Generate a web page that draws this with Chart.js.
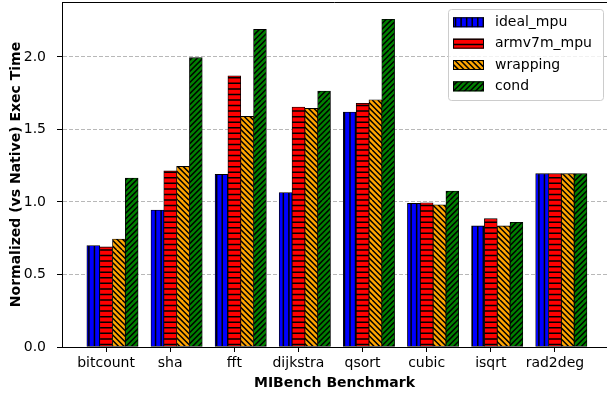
<!DOCTYPE html>
<html>
<head>
<meta charset="utf-8">
<script src="https://cdn.jsdelivr.net/npm/chart.js@4"></script>
<style>
  html, body { margin: 0; padding: 0; background: #ffffff; }
  #wrap { width: 607px; height: 399px; }
</style>
</head>
<body>
<div id="wrap"><canvas id="c" width="607" height="399"></canvas></div>
<script>
// Benchmarks and normalized execution times per MPU scheme
const categories = ['bitcount', 'sha', 'fft', 'dijkstra', 'qsort', 'cubic', 'isqrt', 'rad2deg'];
const seriesNames = ['ideal_mpu', 'armv7m_mpu', 'wrapping', 'cond'];
const idealMpu  = [0.70, 0.945, 1.19, 1.065, 1.62, 0.99, 0.835, 1.195];
const armv7mMpu = [0.69, 1.215, 1.87, 1.655, 1.68, 0.995, 0.885, 1.195];
const wrapping  = [0.745, 1.245, 1.59, 1.645, 1.705, 0.98, 0.835, 1.195];
const cond      = [1.165, 1.995, 2.19, 1.765, 2.26, 1.075, 0.86, 1.195];
const yTicks = [0, 0.5, 1.0, 1.5, 2.0];

const valueSets = [idealMpu, armv7mMpu, wrapping, cond];
const colors = ['#0000ff', '#ff0000', '#ffa500', '#008000'];
const hatchKinds = ['|', '-', '\\', '/'];
const barShift = [-0.2, 0, 0.2, 0.4];   // bar offsets inside each group (x units)
const FONT = '"DejaVu Sans", "Liberation Sans", sans-serif';

// Repeating hatch tile: colored fill with black lines
function hatch(fill, kind) {
  const T = 50, n = 9, step = T / n;
  const c = document.createElement('canvas');
  c.width = T; c.height = T;
  const g = c.getContext('2d');
  g.fillStyle = fill;
  g.fillRect(0, 0, T, T);
  g.strokeStyle = '#000';
  g.lineWidth = 1.5;
  g.beginPath();
  for (let k = -n; k <= 2 * n; k++) {
    const p = k * step;
    if (kind === '|') { g.moveTo(p, 0); g.lineTo(p, T); }
    else if (kind === '-') { g.moveTo(0, p); g.lineTo(T, p); }
    else if (kind === '/') { g.moveTo(p, 0); g.lineTo(p - T, T); }
    else { g.moveTo(p, 0); g.lineTo(p + T, T); }
  }
  g.stroke();
  return g.createPattern(c, 'repeat');
}

const datasets = seriesNames.map((name, s) => ({
  label: name,
  data: categories.map((_, i) => ({ x: i + barShift[s], y: valueSets[s][i] })),
  backgroundColor: hatch(colors[s], hatchKinds[s]),
  borderColor: '#000000',
  borderWidth: 0.8,
  borderSkipped: false,
  grouped: false,
  barPercentage: 1.0,
  categoryPercentage: 1.0
}));

// Top spine and the in-plot legend
const framePlugin = {
  id: 'frameAndLegend',
  afterDraw(chart) {
    const ctx = chart.ctx;
    const a = chart.chartArea;
    ctx.save();
    ctx.strokeStyle = '#000';
    ctx.lineWidth = 1;
    ctx.beginPath();
    ctx.moveTo(a.left, a.top + 0.5);
    ctx.lineTo(a.right, a.top + 0.5);
    ctx.stroke();

    ctx.beginPath();
    ctx.roundRect(448.5, 9.5, 155, 91, 3);
    ctx.fillStyle = 'rgba(255,255,255,0.8)';
    ctx.fill();
    ctx.strokeStyle = '#cccccc';
    ctx.stroke();

    chart.data.datasets.forEach((ds, k) => {
      const cy = 22.3 + k * 21.35;
      ctx.fillStyle = ds.backgroundColor;
      ctx.fillRect(453, cy - 5, 31, 10);
      ctx.strokeStyle = '#000';
      ctx.lineWidth = 1;
      ctx.strokeRect(453.5, cy - 4.5, 30, 9);
      ctx.fillStyle = '#000';
      ctx.font = '14px ' + FONT;
      ctx.textBaseline = 'middle';
      ctx.textAlign = 'left';
      ctx.fillText(ds.label, 495, cy);
    });
    ctx.restore();
  }
};

new Chart(document.getElementById('c'), {
  type: 'bar',
  data: { datasets },
  plugins: [framePlugin],
  options: {
    responsive: false,
    animation: false,
    devicePixelRatio: 1,
    layout: { padding: { top: 2, right: 0, bottom: 0, left: 0 } },
    plugins: { legend: { display: false }, tooltip: { enabled: false } },
    scales: {
      x: {
        type: 'linear',
        offset: false,
        min: -0.6875,
        max: 7.8125,
        afterBuildTicks: s => { s.ticks = categories.map((_, i) => ({ value: i })); },
        afterFit: s => { s.height = 52; s.paddingLeft = 0; s.paddingRight = 0; },
        ticks: {
          autoSkip: false,
          maxRotation: 0,
          padding: 3,
          color: '#000',
          font: { family: FONT, size: 14 },
          callback: (v, i) => categories[i]
        },
        grid: { offset: false, drawOnChartArea: false, drawTicks: true, tickLength: 5, tickColor: '#000', tickWidth: 1 },
        border: { display: true, color: '#000', width: 1 },
        title: {
          display: true,
          text: 'MIBench Benchmark',
          color: '#000',
          font: { family: FONT, size: 14, weight: 'bold' },
          padding: { top: 4, bottom: 7 }
        }
      },
      y: {
        min: 0,
        max: 2.379,
        afterBuildTicks: s => { s.ticks = yTicks.map(v => ({ value: v })); },
        afterFit: s => { s.width = 62; s.paddingTop = 0; s.paddingBottom = 0; },
        ticks: {
          padding: 11,
          color: '#000',
          font: { family: FONT, size: 14 },
          callback: v => Number(v).toFixed(1)
        },
        grid: {
          color: c => (c.tick && c.tick.value === 0) ? 'rgba(0,0,0,0)' : '#b8b8b8',
          lineWidth: 1,
          tickLength: 5,
          tickColor: '#000',
          tickWidth: 1,
          tickBorderDash: []
        },
        border: { display: true, color: '#000', width: 1, dash: [4, 2] },
        title: {
          display: true,
          text: 'Normalized (vs Native) Exec Time',
          color: '#000',
          font: { family: FONT, size: 14, weight: 'bold' },
          padding: { top: 8, bottom: 0 }
        }
      }
    }
  }
});
</script>
</body>
</html>
